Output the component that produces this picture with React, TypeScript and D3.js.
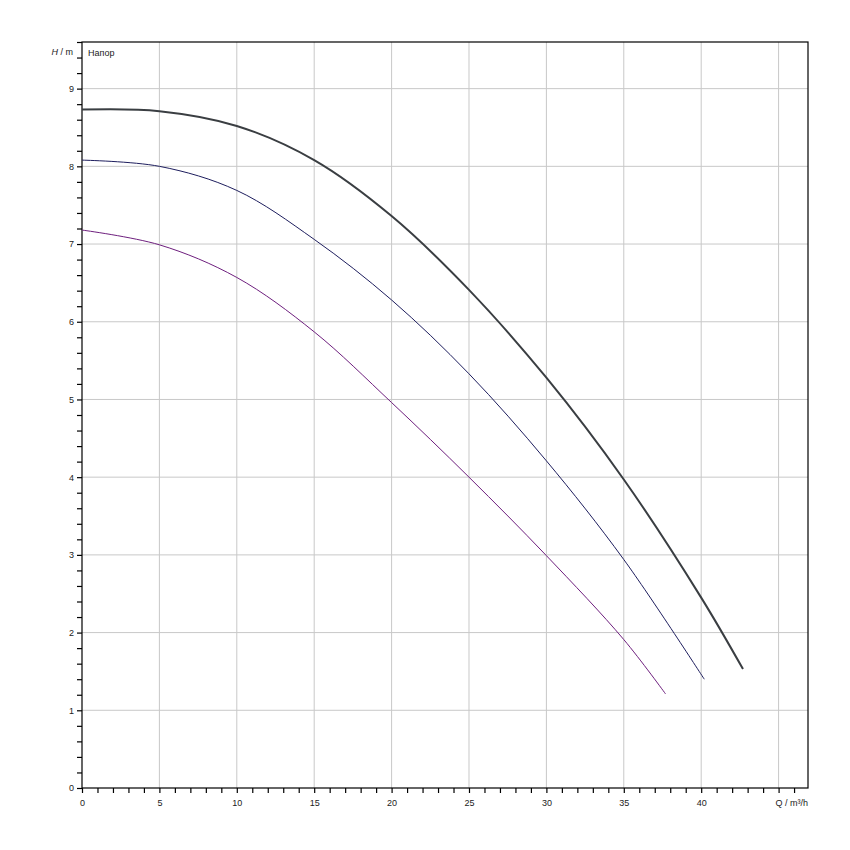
import React, { useEffect, useRef } from 'react';
import * as d3 from 'd3';

// flow Q (m³/h) and head H (m)
const qTop = [0, 5, 10, 15, 20, 25, 30, 35, 40, 42.7];
const hTop = [8.73, 8.71, 8.52, 8.08, 7.36, 6.41, 5.28, 3.97, 2.45, 1.53];
const qMid = [0, 5, 10, 15, 20, 25, 30, 35, 40.2];
const hMid = [8.08, 8.0, 7.69, 7.06, 6.28, 5.33, 4.21, 2.94, 1.4];
const qLow = [0, 5, 10, 15, 20, 25, 30, 35, 37.7];
const hLow = [7.18, 6.99, 6.57, 5.87, 4.96, 4.0, 2.99, 1.91, 1.21];

const xTicks = [0, 5, 10, 15, 20, 25, 30, 35, 40];
const yTicks = [0, 1, 2, 3, 4, 5, 6, 7, 8, 9];

const curves = [
  { q: qLow, h: hLow, color: '#6e1f7e', width: 1 },
  { q: qMid, h: hMid, color: '#1e1e5e', width: 1 },
  { q: qTop, h: hTop, color: '#3a3e42', width: 2 },
];

const App: React.FC = () => {
  const svgRef = useRef<SVGSVGElement>(null);

  useEffect(() => {
    if (!svgRef.current) return;
    const svg = d3.select(svgRef.current);
    svg.selectAll('*').remove();

    const left = 82, right = 808, top = 42, bottom = 788;
    const x = d3.scaleLinear().domain([0, 46.9]).range([left, right]);
    const y = d3.scaleLinear().domain([0, 9.6]).range([bottom, top]);
    const font = 'Liberation Sans, Arial, sans-serif';

    // grid
    const grid = svg.append('g').attr('stroke', '#c8c8c8').attr('stroke-width', 1);
    [...xTicks.slice(1), 45].forEach(v => {
      grid.append('line').attr('x1', x(v)).attr('x2', x(v)).attr('y1', top).attr('y2', bottom);
    });
    yTicks.slice(1).forEach(v => {
      grid.append('line').attr('x1', left).attr('x2', right).attr('y1', y(v)).attr('y2', y(v));
    });

    // frame
    svg.append('rect').attr('x', left).attr('y', top).attr('width', right - left).attr('height', bottom - top)
      .attr('fill', 'none').attr('stroke', '#000').attr('stroke-width', 1.2);

    // axes
    const xAxis = d3.axisBottom(x).tickValues(d3.range(0, 47, 1)).tickSize(5)
      .tickFormat(d => (xTicks.includes(+d) ? String(d) : ''));
    const gx = svg.append('g').attr('transform', `translate(0,${bottom})`).call(xAxis);
    const yAxis = d3.axisLeft(y).tickValues(d3.range(0, 9.61, 0.2).map(v => +v.toFixed(1))).tickSize(5)
      .tickFormat(d => (Number.isInteger(+d) ? String(d) : ''));
    const gy = svg.append('g').attr('transform', `translate(${left},0)`).call(yAxis);
    [gx, gy].forEach(g => {
      g.select('.domain').remove();
      g.selectAll('line').attr('stroke', '#000').attr('stroke-width', 1.2);
      g.selectAll('text').attr('font-family', font).attr('font-size', 9).attr('fill', '#222');
    });
    gx.selectAll('text').attr('dy', '1.1em');

    // curves
    curves.forEach(c => {
      const pts = c.q.map((q, i) => [q, c.h[i]] as [number, number]);
      const line = d3.line<[number, number]>().x(d => x(d[0])).y(d => y(d[1])).curve(d3.curveCatmullRom.alpha(0.5));
      svg.append('path').attr('d', line(pts)).attr('fill', 'none')
        .attr('stroke', c.color).attr('stroke-width', c.width);
    });

    // labels
    const yl = svg.append('text').attr('x', 73).attr('y', 55).attr('text-anchor', 'end')
      .attr('font-family', font).attr('font-size', 9).attr('fill', '#222');
    yl.append('tspan').attr('font-style', 'italic').text('H');
    yl.append('tspan').text(' / m');
    svg.append('text').attr('x', 88).attr('y', 56).attr('font-family', font).attr('font-size', 9)
      .attr('fill', '#222').text('Напор');
    svg.append('text').attr('x', 808).attr('y', 806).attr('text-anchor', 'end')
      .attr('font-family', font).attr('font-size', 9).attr('fill', '#222').text('Q / m³/h');
  }, []);

  return (
    <div style={{ position: 'absolute', left: 0, top: 0, background: '#fff' }}>
      <svg ref={svgRef} width={850} height={850} style={{ display: 'block' }} />
    </div>
  );
};

export default App;
